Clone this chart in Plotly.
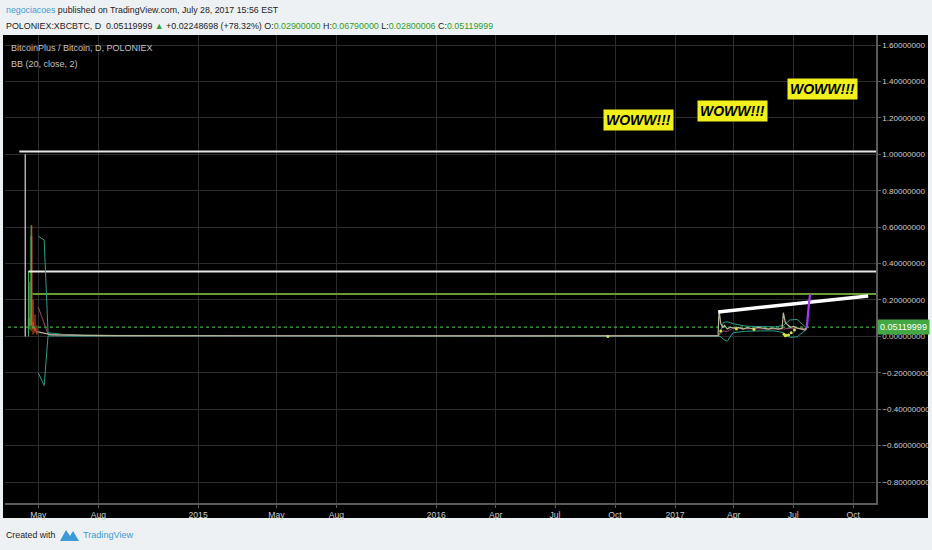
import plotly.graph_objects as go

# ---- data (XBC/BTC daily, Poloniex) ----
first_bar_date = "2014-04-11"
first_bar_low = 0.0
first_bar_high = 1.0

bar_dates = ["2014-04-16", "2014-04-18", "2014-04-20", "2014-04-21", "2014-04-23", "2014-04-26", "2014-04-29"]
bar_open = [0.02, 0.10, 0.06, 0.55, 0.08, 0.05, 0.03]
bar_high = [0.36, 0.30, 0.61, 0.61, 0.20, 0.12, 0.06]
bar_low = [0.00, 0.04, 0.03, 0.06, 0.01, 0.02, 0.01]
bar_close = [0.10, 0.06, 0.55, 0.08, 0.04, 0.03, 0.02]

close_dates = ["2014-05-01", "2014-05-06", "2014-05-12", "2014-05-20", "2014-06-01", "2014-06-20",
               "2014-07-15", "2014-09-01", "2015-01-01", "2015-06-01", "2016-01-01", "2016-06-01",
               "2017-01-01", "2017-03-08", "2017-03-09", "2017-03-10", "2017-03-12", "2017-03-15",
               "2017-03-18", "2017-03-22", "2017-03-27", "2017-04-02", "2017-04-08", "2017-04-15",
               "2017-04-22", "2017-04-30", "2017-05-08", "2017-05-16", "2017-05-24", "2017-06-01",
               "2017-06-08", "2017-06-14", "2017-06-16", "2017-06-19", "2017-06-23", "2017-06-27",
               "2017-07-02", "2017-07-08", "2017-07-14", "2017-07-19", "2017-07-22"]
close_vals = [0.025, 0.020, 0.014, 0.010, 0.008, 0.006,
              0.005, 0.004, 0.003, 0.003, 0.003, 0.003,
              0.003, 0.004, 0.110, 0.130, 0.070, 0.050,
              0.060, 0.040, 0.050, 0.045, 0.050, 0.040,
              0.048, 0.042, 0.050, 0.045, 0.040, 0.046,
              0.040, 0.045, 0.130, 0.075, 0.060, 0.050,
              0.055, 0.045, 0.040, 0.035, 0.0512]

low_dates = ["2016-09-20", "2017-03-12", "2017-04-05", "2017-05-02", "2017-06-17",
             "2017-06-19", "2017-06-21", "2017-06-24", "2017-06-28", "2017-07-03"]
low_vals = [0.0, 0.030, 0.040, 0.038, 0.012, 0.004, 0.006, 0.008, 0.020, 0.035]

bb_dates = ["2014-05-01", "2014-05-10", "2014-05-16", "2014-05-25", "2014-06-10", "2014-07-10",
            "2014-09-01", "2016-12-31", "2017-03-08", "2017-03-11", "2017-03-16", "2017-03-22",
            "2017-03-31", "2017-04-19", "2017-05-12", "2017-06-03", "2017-06-16", "2017-06-26",
            "2017-07-07", "2017-07-15", "2017-07-22"]
bb_upper = [0.55, 0.53, 0.020, 0.015, 0.010, 0.006,
            0.005, 0.004, 0.004, 0.020, 0.077, 0.080,
            0.070, 0.056, 0.055, 0.052, 0.060, 0.090,
            0.093, 0.070, 0.045]
bb_basis = [0.16, 0.07, 0.012, 0.009, 0.006, 0.004,
            0.0035, 0.003, 0.003, 0.010, 0.030, 0.027,
            0.045, 0.042, 0.042, 0.041, 0.040, 0.045,
            0.045, 0.045, 0.043]
bb_lower = [-0.20, -0.27, 0.003, 0.002, 0.001, 0.001,
            0.002, 0.002, 0.002, 0.000, -0.015, -0.027,
            0.020, 0.028, 0.030, 0.030, 0.020, -0.005,
            -0.003, 0.020, 0.040]

# drawings made by the author
hline_levels = [1.015, 0.356, 0.233]
hline_starts = ["2014-04-02", "2014-04-16", "2014-04-22"]
hline_colors = ["#e6e6e6", "#e6e6e6", "#6a9c34"]
trend_dates = ["2017-03-08", "2017-10-24"]
trend_vals = [0.134, 0.222]
proj_dates = ["2017-07-22", "2017-07-25", "2017-07-27"]
proj_vals = [0.045, 0.17, 0.232]
last_close = 0.05119999

wow_dates = ["2016-11-06", "2017-03-30", "2017-08-15"]
wow_vals = [1.188, 1.238, 1.357]

tick_dates = ["2014-05-01", "2014-08-01", "2015-01-01", "2015-05-01", "2015-08-01", "2016-01-01",
              "2016-04-01", "2016-07-01", "2016-10-01", "2017-01-01", "2017-04-01", "2017-07-01",
              "2017-10-01"]
tick_text = ["May", "Aug", "2015", "May", "Aug", "2016", "Apr", "Jul", "Oct", "2017", "Apr", "Jul", "Oct"]

# ---- page geometry (pixels) ----
W, H = 932, 550
L, R, T, B = 5, 876, 35, 503
PW, PH = R - L, B - T


def px(x):
    return (x - L) / PW


def py(y):
    return (B - y) / PH


FONT = "Liberation Sans, Arial, sans-serif"

fig = go.Figure()

for lvl, start, col in zip(hline_levels, hline_starts, hline_colors):
    fig.add_trace(go.Scatter(x=[start, "2018-01-01"], y=[lvl, lvl], mode="lines",
                             line=dict(color=col, width=2), hoverinfo="skip"))

fig.add_trace(go.Scatter(x=["2014-01-01", "2018-01-01"], y=[last_close, last_close], mode="lines",
                         line=dict(color="#3fb23f", width=1.3, dash="dot"), hoverinfo="skip"))

fig.add_trace(go.Scatter(x=[first_bar_date, first_bar_date], y=[first_bar_low, first_bar_high],
                         mode="lines", line=dict(color="#d8d8d8", width=1.2)))

fig.add_trace(go.Scatter(x=bb_dates, y=bb_upper, mode="lines", line=dict(color="#2a9d8a", width=1)))
fig.add_trace(go.Scatter(x=bb_dates, y=bb_lower, mode="lines", line=dict(color="#2a9d8a", width=1)))
fig.add_trace(go.Scatter(x=bb_dates, y=bb_basis, mode="lines", line=dict(color="#9c4a6a", width=1)))

fig.add_trace(go.Scatter(x=close_dates, y=close_vals, mode="lines",
                         line=dict(color="#b8b89a", width=1.2)))

fig.add_trace(go.Candlestick(x=bar_dates, open=bar_open, high=bar_high, low=bar_low, close=bar_close,
                             increasing=dict(line=dict(color="#4caf50", width=1), fillcolor="#4caf50"),
                             decreasing=dict(line=dict(color="#e5582c", width=1), fillcolor="#e5582c")))

fig.add_trace(go.Scatter(x=low_dates, y=low_vals, mode="markers",
                         marker=dict(color="#d4e04a", size=3)))

fig.add_trace(go.Scatter(x=trend_dates, y=trend_vals, mode="lines",
                         line=dict(color="#ffffff", width=3.5)))
fig.add_trace(go.Scatter(x=proj_dates, y=proj_vals, mode="lines",
                         line=dict(color="#a23cf0", width=2.2, shape="spline")))

annotations = []
for d, v in zip(wow_dates, wow_vals):
    annotations.append(dict(x=d, y=v, xref="x", yref="y", text="WOWW!!!", showarrow=False,
                            bgcolor="#f2f01a", borderpad=2,
                            font=dict(family=FONT, size=14, color="#000000",
                                      weight="bold", style="italic")))

GREEN = "#2e9e2e"
header1 = ("<span style='color:#3d9ad6'>negociacoes</span> published on TradingView.com, "
           "July 28, 2017 15:56 EST")
header2 = ("POLONIEX:XBCBTC, D  0.05119999 <span style='color:%s'>▲</span> +0.02248698 (+78.32%%) "
           "O:<span style='color:%s'>0.02900000</span> H:<span style='color:%s'>0.06790000</span> "
           "L:<span style='color:%s'>0.02800006</span> C:<span style='color:%s'>0.05119999</span>"
           % (GREEN, GREEN, GREEN, GREEN, GREEN))
annotations += [
    dict(x=px(4), y=py(10), text=header1, xanchor="left", yanchor="middle",
         font=dict(color="#222222", size=8.8, family=FONT)),
    dict(x=px(4), y=py(26), text=header2, xanchor="left", yanchor="middle",
         font=dict(color="#222222", size=8.9, family=FONT)),
    dict(x=px(9), y=py(48), text="BitcoinPlus / Bitcoin, D, POLONIEX", xanchor="left", yanchor="middle",
         font=dict(color="#c4c4c4", size=9, family=FONT)),
    dict(x=px(9), y=py(64), text="BB (20, close, 2)", xanchor="left", yanchor="middle",
         font=dict(color="#c4c4c4", size=9, family=FONT)),
    dict(x=px(4), y=py(535), text="Created with", xanchor="left", yanchor="middle",
         font=dict(color="#222222", size=8.8, family=FONT)),
    dict(x=px(81), y=py(535), text="TradingView", xanchor="left", yanchor="middle",
         font=dict(color="#3d9ad6", size=9.1, family=FONT)),
    dict(x=px(877), y=last_close, yref="y", text="0.05119999", xanchor="left", yanchor="middle",
         bgcolor="#43a843", borderpad=2, font=dict(color="#ffffff", size=9, family=FONT)),
]
for a in annotations:
    a.setdefault("xref", "paper")
    a.setdefault("yref", "paper")
    a.setdefault("showarrow", False)

logo = "M {},{} L {},{} L {},{} L {},{} L {},{} Z".format(
    px(60), py(541), px(66), py(530), px(70), py(536), px(73), py(531), px(79), py(541))

shapes = [
    dict(type="rect", xref="paper", yref="paper", x0=px(3), x1=px(928), y0=py(518), y1=py(35),
         fillcolor="#000000", line=dict(width=0), layer="below"),
    dict(type="path", xref="paper", yref="paper", path=logo, fillcolor="#3d9ad6",
         line=dict(width=0)),
]

fig.update_layout(
    width=W, height=H,
    margin=dict(l=L, r=W - R, t=T, b=H - B, pad=0),
    paper_bgcolor="#eef1f4",
    plot_bgcolor="#000000",
    showlegend=False,
    hovermode=False,
    annotations=annotations,
    shapes=shapes,
    font=dict(family=FONT),
)
fig.update_xaxes(
    type="date", range=["2014-03-11", "2017-11-05"], rangeslider_visible=False,
    tickvals=tick_dates, ticktext=tick_text, automargin=False,
    tickfont=dict(color="#cfcfcf", size=8.6, family=FONT),
    showgrid=True, gridcolor="#2c2c2c", gridwidth=1, zeroline=False,
    showline=True, linecolor="#5a5a5a", linewidth=1.5,
    ticks="outside", ticklen=3, tickcolor="#5a5a5a",
)
fig.update_yaxes(
    side="right", range=[-0.915, 1.655], dtick=0.2, tick0=0, tickformat=".8f", automargin=False,
    tickfont=dict(color="#cfcfcf", size=8.1, family=FONT),
    showgrid=True, gridcolor="#2c2c2c", gridwidth=1, zeroline=False,
    showline=True, linecolor="#5a5a5a", linewidth=1.5,
    ticks="outside", ticklen=3, tickcolor="#5a5a5a",
)

# page has a default 8px body margin; drop it so the figure sits at the window's corner
fig.write_html("out.html", config={"displayModeBar": False},
               post_script="document.body.style.margin='0';document.body.style.background='#eef1f4';")
